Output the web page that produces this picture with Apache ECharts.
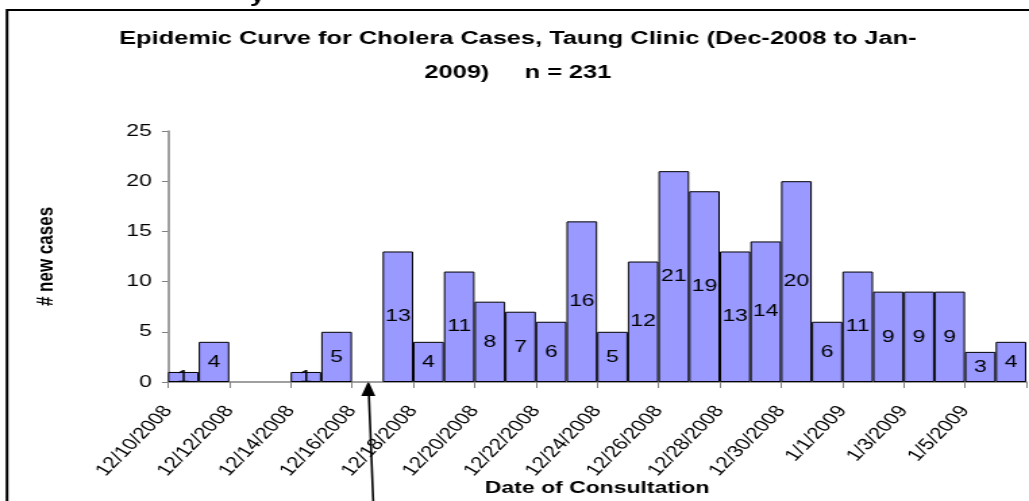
<!DOCTYPE html>
<html>
<head>
<meta charset="utf-8">
<script src="https://cdn.jsdelivr.net/npm/echarts@6/dist/echarts.min.js"></script>
<style>
  html, body { margin: 0; padding: 0; background: #fff; overflow: hidden; }
  /* the source picture is stretched sideways, so the chart is drawn narrower and widened */
  #container { width: 762px; height: 501px; transform: scaleX(1.3504); transform-origin: 0 0; }
</style>
</head>
<body>
<div id="container"></div>
<script>
// one category per day, 12/10/2008 .. 1/6/2009
var days = ['12/10/2008', '12/11/2008', '12/12/2008', '12/13/2008', '12/14/2008', '12/15/2008',
  '12/16/2008', '12/17/2008', '12/18/2008', '12/19/2008', '12/20/2008', '12/21/2008',
  '12/22/2008', '12/23/2008', '12/24/2008', '12/25/2008', '12/26/2008', '12/27/2008',
  '12/28/2008', '12/29/2008', '12/30/2008', '12/31/2008', '1/1/2009', '1/2/2009',
  '1/3/2009', '1/4/2009', '1/5/2009', '1/6/2009'];
// new cases per day (blank days = null)
var cases = [1, 4, null, null, 1, 5, null, 13, 4, 11, 8, 7, 6, 16, 5, 12, 21, 19, 13, 14, 20, 6, 11, 9, 9, 9, 3, 4];
// labels shown at every second tick
var tickLabels = ['12/10/2008', '12/12/2008', '12/14/2008', '12/16/2008', '12/18/2008', '12/20/2008',
  '12/22/2008', '12/24/2008', '12/26/2008', '12/28/2008', '12/30/2008', '1/1/2009', '1/3/2009', '1/5/2009'];
var arrowDay = '12/16/2008';

var font = '"Liberation Sans", Arial, sans-serif';
var myChart = echarts.init(document.getElementById('container'));

var option = {
    animation: false,
    textStyle: { fontFamily: font },
    title: {
        text: 'Epidemic Curve for Cholera Cases, Taung Clinic (Dec-2008 to Jan-\n2009)     n = 231',
        left: 378.5,
        textAlign: 'center',
        top: 17,
        textStyle: { fontSize: 18.8, fontWeight: 'bold', color: '#000', lineHeight: 34, fontFamily: font }
    },
    grid: { left: 124.4, right: 2, top: 131, bottom: 119, containLabel: false, outerBoundsMode: 'none' },
    xAxis: [{
        type: 'category',
        data: days,
        position: 'bottom',
        boundaryGap: true,
        axisLine: { lineStyle: { color: '#808080', width: 1.5 } },
        axisTick: { show: true, interval: 1, length: 6, lineStyle: { color: '#808080' } },
        axisLabel: { show: false },
        name: 'Date of Consultation',
        nameLocation: 'middle',
        nameGap: 98,
        nameTextStyle: { fontSize: 17, fontWeight: 'bold', color: '#000' }
    }, {
        type: 'value',
        position: 'bottom',
        min: 0,
        max: 28,
        interval: 2,
        axisLine: { show: false },
        axisTick: { show: false },
        splitLine: { show: false },
        axisLabel: {
            rotate: 53,
            margin: 26,
            fontSize: 16.5,
            color: '#000',
            showMaxLabel: false,
            formatter: function (v) {
                var t = tickLabels[v / 2];
                return t === undefined ? '' : t;
            }
        }
    }],
    yAxis: {
        type: 'value',
        min: 0,
        max: 25,
        interval: 5,
        axisLine: { show: true, lineStyle: { color: '#808080', width: 1.5 } },
        axisTick: { show: true, length: 4.5, lineStyle: { color: '#808080' } },
        splitLine: { show: false },
        axisLabel: { fontSize: 17, color: '#000', margin: 12 },
        name: '# new cases',
        nameLocation: 'middle',
        nameGap: 82,
        nameRotate: 90,
        nameTextStyle: { fontSize: 17, fontWeight: 'bold', color: '#000' }
    },
    series: [{
        type: 'bar',
        xAxisIndex: 0,
        data: cases,
        barCategoryGap: '0%',
        itemStyle: { color: '#9999FF', borderColor: '#000', borderWidth: 1 },
        label: {
            show: true,
            position: 'inside',
            fontSize: 17,
            color: '#000',
            fontFamily: font
        }
    }]
};
myChart.setOption(option);

// annotation: frame, stray text from the page, and the arrow pointing at 12/16
var tip = myChart.convertToPixel({ xAxisIndex: 0, yAxisIndex: 0 }, [arrowDay, 0]);
var tipX = tip[0] + 0.8, tipY = tip[1] - 1;
myChart.setOption({
    graphic: [{
        type: 'rect',
        shape: { x: 5.2, y: 10, width: 800, height: 520 },
        style: { fill: 'none', stroke: '#000', lineWidth: 2 },
        silent: true
    }, {
        type: 'text',
        x: 185, y: -14,
        style: { text: 'y', font: 'bold 20px ' + font, fill: '#000' }
    }, {
        type: 'line',
        shape: { x1: tipX + 0.4, y1: tipY + 14, x2: tipX + 3.9, y2: 510 },
        style: { stroke: '#000', lineWidth: 1.6 }
    }, {
        type: 'polygon',
        shape: { points: [[tipX, tipY], [tipX - 5.2, tipY + 15], [tipX + 5.2, tipY + 15]] },
        style: { fill: '#000' }
    }]
});
</script>
</body>
</html>
